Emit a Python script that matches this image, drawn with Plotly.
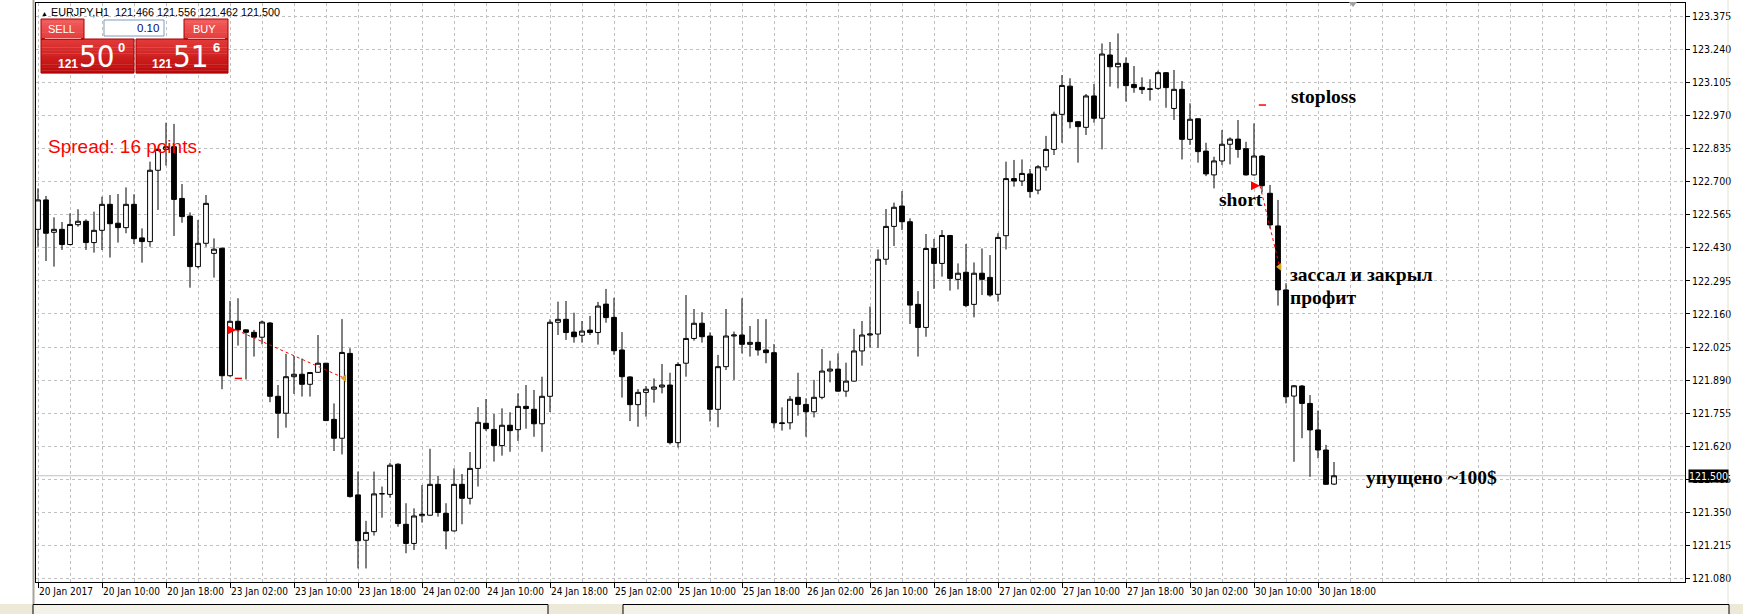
import plotly.graph_objects as go

# ---------------- data (EURJPY H1) ----------------
opens = [122.505, 122.625, 122.493, 122.505, 122.443, 122.524, 122.538, 122.451, 122.501, 122.607,
         122.530, 122.512, 122.607, 122.470, 122.455, 122.746, 122.831, 122.842, 122.631, 122.559,
         122.353, 122.448, 122.407, 122.428, 121.908, 122.130, 122.095, 122.085, 122.065, 122.123,
         121.824, 121.755, 121.904, 121.914, 121.873, 121.922, 121.959, 121.730, 121.653, 121.999,
         121.422, 121.237, 121.272, 121.426, 121.424, 121.547, 121.302, 121.224, 121.337, 121.339,
         121.465, 121.347, 121.275, 121.465, 121.408, 121.530, 121.714, 121.689, 121.623, 121.706,
         121.688, 121.783, 121.771, 121.712, 121.824, 122.126, 122.138, 122.086, 122.073, 122.094,
         122.084, 122.200, 122.146, 122.013, 121.903, 121.790, 121.840, 121.853, 121.862, 121.870,
         121.635, 121.959, 122.060, 122.122, 122.070, 121.771, 121.945, 122.070, 122.074, 122.036,
         122.044, 122.013, 122.002, 121.716, 121.716, 121.820, 121.791, 121.761, 121.820, 121.927,
         121.935, 121.845, 121.886, 122.009, 122.074, 122.078, 122.383, 122.517, 122.600, 122.536,
         122.199, 122.105, 122.427, 122.366, 122.480, 122.301, 122.330, 122.199, 122.326, 122.309,
         122.240, 122.479, 122.712, 122.702, 122.731, 122.665, 122.760, 122.831, 122.974, 123.089,
         122.944, 122.921, 123.049, 122.958, 123.216, 123.168, 123.182, 123.096, 123.084, 123.078,
         123.080, 123.144, 122.998, 123.076, 122.872, 122.956, 122.824, 122.727, 122.784, 122.852,
         122.873, 122.834, 122.727, 122.804, 122.652, 122.519, 122.258, 121.825, 121.866, 121.795,
         121.687, 121.605, 121.466]
highs = [122.672, 122.641, 122.554, 122.535, 122.570, 122.587, 122.546, 122.577, 122.638, 122.645,
         122.649, 122.676, 122.648, 122.509, 122.781, 122.835, 122.940, 122.935, 122.690, 122.574,
         122.543, 122.645, 122.468, 122.430, 122.213, 122.224, 122.097, 122.095, 122.133, 122.127,
         121.870, 121.997, 121.989, 121.978, 121.921, 122.074, 121.960, 121.795, 122.139, 122.020,
         121.517, 121.316, 121.517, 121.456, 121.553, 121.551, 121.388, 121.367, 121.462, 121.610,
         121.499, 121.388, 121.530, 121.507, 121.597, 121.780, 121.813, 121.752, 121.775, 121.759,
         121.836, 121.870, 121.850, 121.904, 122.138, 122.210, 122.213, 122.165, 122.131, 122.152,
         122.209, 122.262, 122.226, 122.086, 121.906, 121.853, 121.866, 121.897, 121.956, 121.920,
         121.963, 122.237, 122.180, 122.167, 122.085, 121.993, 122.180, 122.088, 122.224, 122.111,
         122.139, 122.139, 122.037, 121.779, 121.825, 121.920, 121.816, 121.891, 122.017, 121.969,
         121.999, 121.961, 122.099, 122.131, 122.190, 122.423, 122.588, 122.614, 122.661, 122.550,
         122.253, 122.486, 122.466, 122.502, 122.482, 122.366, 122.445, 122.370, 122.427, 122.400,
         122.489, 122.781, 122.788, 122.790, 122.751, 122.767, 122.886, 122.985, 123.134, 123.121,
         122.946, 123.057, 123.098, 123.263, 123.269, 123.304, 123.206, 123.171, 123.125, 123.117,
         123.152, 123.146, 123.155, 123.110, 123.019, 122.958, 122.858, 122.801, 122.910, 122.880,
         122.951, 122.862, 122.937, 122.808, 122.686, 122.625, 122.285, 121.870, 121.870, 121.829,
         121.766, 121.626, 121.556]
lows = [122.434, 122.376, 122.353, 122.421, 122.440, 122.516, 122.421, 122.410, 122.421, 122.390,
        122.451, 122.489, 122.445, 122.369, 122.434, 122.584, 122.765, 122.478, 122.532, 122.267,
        122.346, 122.434, 122.308, 121.853, 121.904, 122.031, 121.893, 121.986, 122.036, 121.800,
        121.653, 121.696, 121.834, 121.823, 121.823, 121.920, 121.724, 121.601, 121.587, 121.411,
        121.122, 121.122, 121.256, 121.329, 121.411, 121.292, 121.184, 121.197, 121.309, 121.337,
        121.333, 121.200, 121.273, 121.302, 121.383, 121.456, 121.683, 121.558, 121.582, 121.598,
        121.642, 121.692, 121.659, 121.598, 121.760, 122.074, 122.054, 122.043, 122.043, 122.074,
        122.035, 122.124, 121.993, 121.819, 121.723, 121.700, 121.741, 121.798, 121.836, 121.628,
        121.615, 121.904, 122.051, 122.043, 121.721, 121.698, 121.931, 121.891, 121.999, 121.986,
        121.990, 121.959, 121.693, 121.684, 121.689, 121.745, 121.659, 121.738, 121.812, 121.881,
        121.843, 121.822, 121.884, 121.949, 122.022, 122.022, 122.360, 122.437, 122.502, 122.119,
        121.986, 122.067, 122.262, 122.312, 122.255, 122.260, 122.187, 122.146, 122.237, 122.230,
        122.210, 122.423, 122.679, 122.682, 122.634, 122.648, 122.744, 122.808, 122.858, 122.917,
        122.777, 122.890, 122.940, 122.831, 123.087, 123.080, 123.026, 123.062, 123.057, 123.030,
        123.074, 123.001, 122.951, 122.790, 122.849, 122.777, 122.722, 122.672, 122.767, 122.770,
        122.797, 122.724, 122.724, 122.656, 122.509, 122.194, 121.795, 121.557, 121.653, 121.496,
        121.571, 121.464, 121.462]
closes = [122.625, 122.489, 122.505, 122.443, 122.525, 122.538, 122.451, 122.501, 122.607, 122.528,
          122.512, 122.607, 122.467, 122.455, 122.746, 122.831, 122.842, 122.627, 122.557, 122.353,
          122.448, 122.611, 122.424, 121.908, 122.130, 122.095, 122.085, 122.065, 122.127, 121.824,
          121.755, 121.904, 121.914, 121.873, 121.921, 121.959, 121.725, 121.653, 122.003, 121.415,
          121.235, 121.269, 121.426, 121.427, 121.543, 121.305, 121.224, 121.336, 121.343, 121.465,
          121.350, 121.275, 121.465, 121.408, 121.530, 121.718, 121.692, 121.623, 121.706, 121.684,
          121.783, 121.774, 121.712, 121.824, 122.126, 122.138, 122.084, 122.067, 122.090, 122.084,
          122.192, 122.145, 122.010, 121.904, 121.790, 121.840, 121.853, 121.862, 121.870, 121.635,
          121.954, 122.060, 122.122, 122.067, 121.771, 121.945, 122.070, 122.074, 122.036, 122.044,
          122.013, 122.002, 121.716, 121.713, 121.812, 121.791, 121.761, 121.820, 121.927, 121.935,
          121.845, 121.886, 122.009, 122.074, 122.078, 122.383, 122.517, 122.595, 122.536, 122.196,
          122.105, 122.427, 122.366, 122.480, 122.305, 122.326, 122.194, 122.326, 122.301, 122.237,
          122.472, 122.712, 122.702, 122.733, 122.659, 122.760, 122.831, 122.974, 123.092, 122.944,
          122.924, 123.049, 122.958, 123.220, 123.168, 123.182, 123.091, 123.083, 123.075, 123.076,
          123.144, 123.083, 123.076, 122.872, 122.954, 122.822, 122.731, 122.784, 122.852, 122.873,
          122.831, 122.727, 122.804, 122.683, 122.523, 122.258, 121.822, 121.867, 121.795, 121.687,
          121.605, 121.465, 121.500]

time_labels = ["20 Jan 2017", "20 Jan 10:00", "20 Jan 18:00", "23 Jan 02:00", "23 Jan 10:00",
               "23 Jan 18:00", "24 Jan 02:00", "24 Jan 10:00", "24 Jan 18:00", "25 Jan 02:00",
               "25 Jan 10:00", "25 Jan 18:00", "26 Jan 02:00", "26 Jan 10:00", "26 Jan 18:00",
               "27 Jan 02:00", "27 Jan 10:00", "27 Jan 18:00", "30 Jan 02:00", "30 Jan 10:00",
               "30 Jan 18:00"]
label_every = 8  # bars between time labels

price_ticks = [121.080, 121.215, 121.350, 121.485, 121.620, 121.755, 121.890, 122.025, 122.160,
               122.295, 122.430, 122.565, 122.700, 122.835, 122.970, 123.105, 123.240, 123.375]
bid_price = 121.500

# trades (bar position, price)
trade_open_bar = [24.8, 152.75]
trade_open_price = [122.094, 122.683]
trade_close_bar = [38.3, 155.2]
trade_close_price = [121.898, 122.352]
level_bar = [25.05, 153.05]
level_price = [121.897, 123.012]

notes = ["stoploss", "short", "зассал и закрыл", "профит", "упущено ~100$"]
note_bar = [156.5, 147.5, 156.4, 156.4, 165.9]
note_price = [123.045, 122.625, 122.319, 122.225, 121.491]

# ---------------- geometry helpers (pixels -> paper) ----------------
W, H = 1743, 614
L, R, T, B = 36, 1685, 3, 582


def px(x):
    return (x - L) / (R - L)


def py(y):
    return (B - y) / (B - T)


NARROW = "Liberation Sans Narrow, Arial Narrow, DejaVu Sans Condensed, Liberation Sans, sans-serif"
SANS = "Liberation Sans, Arial, sans-serif"
SERIF = "Liberation Serif, Times New Roman, serif"

bars = list(range(len(opens)))

fig = go.Figure()
fig.add_trace(go.Candlestick(
    x=bars, open=opens, high=highs, low=lows, close=closes,
    increasing=dict(line=dict(color="black", width=1), fillcolor="white"),
    decreasing=dict(line=dict(color="black", width=1), fillcolor="black"),
    whiskerwidth=0, hoverinfo="skip", showlegend=False))

# trade lines and markers
for i in range(len(trade_open_bar)):
    fig.add_trace(go.Scatter(
        x=[trade_open_bar[i], trade_close_bar[i]], y=[trade_open_price[i], trade_close_price[i]],
        mode="lines", line=dict(color="#ff0000", width=1, dash="3px,3px"),
        hoverinfo="skip", showlegend=False))
    fig.add_trace(go.Scatter(
        x=[level_bar[i] - 0.45, level_bar[i] + 0.45], y=[level_price[i], level_price[i]],
        mode="lines", line=dict(color="#ff0000", width=1.5),
        hoverinfo="skip", showlegend=False))
fig.add_trace(go.Scatter(
    x=trade_open_bar, y=trade_open_price, mode="markers",
    marker=dict(symbol="arrow-right", size=9, color="#ff0000", line=dict(width=0)),
    hoverinfo="skip", showlegend=False))
fig.add_trace(go.Scatter(
    x=trade_close_bar, y=trade_close_price, mode="markers",
    marker=dict(symbol="triangle-left", size=7, color="#daa520", line=dict(width=0)),
    hoverinfo="skip", showlegend=False))

grid = dict(gridcolor="#c0c0c0", griddash="3px,3px", gridwidth=1)

fig.update_layout(
    width=W, height=H,
    margin=dict(l=L, r=W - R, t=T, b=H - B, autoexpand=False),
    paper_bgcolor="white", plot_bgcolor="white",
    boxgap=0.4, boxgroupgap=0,
    showlegend=False,
    xaxis=dict(
        range=[-0.25, (R - 38) / 8.0],
        tickmode="array",
        tickvals=[k * label_every for k in range(len(time_labels))],
        ticktext=time_labels,
        tickangle=0,
        ticks="outside", ticklen=5, tickcolor="black", tickwidth=1,
        ticklabelposition="outside right",
        tickfont=dict(family=NARROW, size=10, color="black"),
        showline=True, linecolor="black", linewidth=1, mirror=True,
        showgrid=True, **grid,
        minor=dict(tickmode="linear", tick0=0, dtick=4, showgrid=True, ticks="", **grid),
        zeroline=False, rangeslider=dict(visible=False), fixedrange=True),
    yaxis=dict(
        side="right",
        range=[121.0667, 123.4281],
        tickmode="array", tickvals=price_ticks,
        ticktext=["%.3f" % v for v in price_ticks],
        ticks="outside", ticklen=4, tickcolor="black", tickwidth=1,
        tickfont=dict(family=NARROW, size=10.5, color="black"),
        showline=True, linecolor="black", linewidth=1, mirror=True,
        showgrid=True, **grid, zeroline=False, fixedrange=True),
)

shapes = []
annos = []

# bid line + label
shapes.append(dict(type="line", xref="paper", yref="y", x0=0, x1=1, y0=bid_price, y1=bid_price,
                   line=dict(color="#c0c0c0", width=1), layer="below"))
annos.append(dict(xref="paper", yref="y", x=1, y=bid_price, xanchor="left", yanchor="middle",
                  xshift=3, text="%.3f" % bid_price, showarrow=False, bgcolor="black",
                  borderpad=0, font=dict(family=NARROW, size=10.5, color="white")))

# window frame pieces
shapes.append(dict(type="line", xref="paper", yref="paper", x0=px(33.5), x1=px(33.5),
                   y0=py(0), y1=py(604), line=dict(color="#a8a49a", width=2)))
shapes.append(dict(type="line", xref="paper", yref="paper", x0=px(1728), x1=px(1728),
                   y0=py(0), y1=py(604), line=dict(color="#e4e1d2", width=1)))
shapes.append(dict(type="rect", xref="paper", yref="paper", x0=px(0), x1=px(1743),
                   y0=py(604), y1=py(614), fillcolor="#ece9d8", line=dict(width=0)))
for a, b in [(33, 548), (623, 1729)]:
    shapes.append(dict(type="rect", xref="paper", yref="paper", x0=px(a), x1=px(b),
                       y0=py(604.5), y1=py(618), fillcolor="#f4f2e8",
                       line=dict(color="black", width=1)))
# chart shift marker
cx, cy = 1353, 2
shapes.append(dict(type="path", xref="paper", yref="paper",
                   path="M %f %f L %f %f L %f %f Z" % (px(cx - 4), py(cy), px(cx + 4), py(cy),
                                                      px(cx), py(cy + 5)),
                   fillcolor="#a0a0a0", line=dict(width=0)))


# one-click trading panel
def hexmix(c1, c2, t):
    a = [int(c1[i:i + 2], 16) for i in (1, 3, 5)]
    b = [int(c2[i:i + 2], 16) for i in (1, 3, 5)]
    return "#%02x%02x%02x" % tuple(round(a[k] + (b[k] - a[k]) * t) for k in range(3))


def grad_rect(x0, x1, y0, y1, ctop, cbot, n=10):
    h = (y1 - y0) / n
    for k in range(n):
        shapes.append(dict(type="rect", xref="paper", yref="paper",
                           x0=px(x0), x1=px(x1), y0=py(y0 + k * h), y1=py(y0 + (k + 1) * h + 0.3),
                           fillcolor=hexmix(ctop, cbot, (k + 0.5) / n), line=dict(width=0)))


def prect(x0, x1, y0, y1, color):
    shapes.append(dict(type="rect", xref="paper", yref="paper", x0=px(x0), x1=px(x1),
                       y0=py(y0), y1=py(y1), line=dict(color=color, width=1)))


for (tx0, tx1), (mx0, mx1) in [((41, 84), (41, 134)), ((184, 228), (136, 228))]:
    grad_rect(tx0, tx1, 19, 39, "#f45d5d", "#e43c3c", 6)
    grad_rect(mx0, mx1, 39, 73, "#e33b3b", "#bb0808", 12)
    prect(mx0, mx1, 39, 73, "#a80000")
    prect(tx0, tx1, 19, 39, "#a80000")
    shapes.append(dict(type="line", xref="paper", yref="paper", x0=px(tx0 + 4), x1=px(tx1 - 3),
                       y0=py(38.5), y1=py(38.5), line=dict(color="#ff9a9a", width=1)))

shapes.append(dict(type="rect", xref="paper", yref="paper", x0=px(104), x1=px(164),
                   y0=py(20), y1=py(36), fillcolor="white", line=dict(color="#7f9db9", width=1)))


def ptext(x, y, text, size, color="white", family=SANS, xanchor="center", weight="normal"):
    annos.append(dict(xref="paper", yref="paper", x=px(x), y=py(y), text=text, showarrow=False,
                      xanchor=xanchor, yanchor="middle", borderpad=0,
                      font=dict(family=family, size=size, color=color, weight=weight)))


ptext(61, 29, "SELL", 11)
ptext(204, 29, "BUY", 11)
ptext(160, 28, "0.10", 11.5, color="#0a0a70", xanchor="right")
ptext(68, 64, "121", 12, weight="bold")
ptext(96, 56, "50", 31, family=NARROW)
ptext(121.5, 47.5, "0", 13, weight="bold")
ptext(162, 64, "121", 12, weight="bold")
ptext(190, 56, "51", 31, family=NARROW)
ptext(216.5, 47.5, "6", 13, weight="bold")

# symbol header
ptext(40, 11.5, '<span style="font-size:7px">▲</span> EURJPY,H1&nbsp; 121.466 121.556 121.462 121.500',
      10.8, color="black", family=SANS, xanchor="left")

# spread label
ptext(47, 146, "Spread: 16 points.", 19, color="#ff0000", family=SANS, xanchor="left")

# hand-written notes on the chart
for t, b, p in zip(notes, note_bar, note_price):
    annos.append(dict(xref="x", yref="y", x=b, y=p, text=t, showarrow=False, xanchor="left",
                      yanchor="middle", borderpad=0,
                      font=dict(family=SERIF, size=19.5, color="black", weight="bold")))

fig.update_layout(shapes=shapes, annotations=annos)
fig.write_html("out.html", config={"displayModeBar": False},
               post_script="document.body.style.margin='0';")
